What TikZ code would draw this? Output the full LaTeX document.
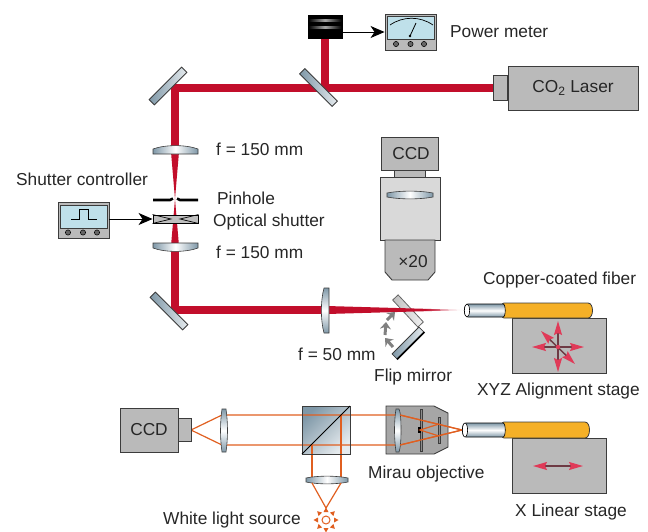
\documentclass[tikz,border=0pt]{standalone}
\usepackage{fontspec}
\setmainfont{Liberation Sans}
\usetikzlibrary{arrows.meta}
\definecolor{beamred}{HTML}{C20E2B}
\definecolor{rayorange}{HTML}{E05F20}
\definecolor{glassdark}{HTML}{7F98A8}
\definecolor{glasslight}{HTML}{E6EBEE}
\definecolor{edgegray}{HTML}{3C3C3C}
\definecolor{screenblue}{HTML}{BFE0EA}
\definecolor{copper}{HTML}{F5B027}
\definecolor{tipred}{HTML}{E03A58}
\definecolor{shaftred}{HTML}{6E3A44}
\tikzset{
    every node/.style={font=\fontsize{17.3}{20}\selectfont, text=black!85},
    label/.style={anchor=west, inner sep=0pt},
    box/.style={draw=edgegray, line width=0.9pt, fill=black!27, inner sep=0pt},
    beam/.style={line width=8pt, draw=beamred},
    ray/.style={draw=rayorange, line width=1.2pt},
    lens/.style={draw=edgegray, line width=0.6pt, left color=glassdark, right color=glassdark, middle color=white},
    vlens/.style={draw=edgegray, line width=0.6pt, top color=glassdark, bottom color=glassdark, middle color=white},
    mirror/.style={draw=edgegray, line width=0.8pt, minimum height=7.5pt, inner sep=0pt, left color=glassdark, right color=glasslight},
    sendarrow/.style={draw=black, line width=0.9pt, -{Stealth[length=14pt, width=12pt, inset=4pt]}},
    flipmove/.style={draw=black!50, line width=3pt, -{Stealth[length=7pt, width=11pt]}},
    stagemove/.style={draw=shaftred, line width=1.5pt, {Stealth[length=14pt, width=8pt, inset=2pt, color=tipred]}-{Stealth[length=14pt, width=8pt, inset=2pt, color=tipred]}},
    knob/.style={draw=black, fill=black!60, line width=0.5pt},
}
\begin{document}
\begin{tikzpicture}[x=1pt, y=-1pt]
    \useasboundingbox (0,0) rectangle (648,531);

    % red beam
    \draw[beam, line cap=butt] (325,38) -- (325,88);
    \draw[beam, line join=miter] (494,88) -- (175,88) -- (175,150);
    \fill[beamred] (171,152) -- (179,152) -- (175,199) -- cycle;
    \fill[beamred] (175,199) -- (179,246) -- (171,246) -- cycle;
    \draw[beam, line join=miter] (175,246) -- (175,310) -- (326,310);

    % instruments
    \node[box, minimum width=130pt, minimum height=44pt] (laser) at (573,88) {CO\textsubscript{2} Laser};
    \node[box, minimum width=14pt, minimum height=25pt, anchor=east] (nose) at (laser.west) {};
    \node[box, minimum width=51pt, minimum height=36pt] (meter) at (410.5,32) {};
    \node[draw=black, fill=black, minimum width=34pt, minimum height=23pt, inner sep=0pt] (atten) at (325,26.5) {};
    \shade[left color=black, right color=black, middle color=black!35] (308.5,19) rectangle (341.5,21);
    \shade[left color=black, right color=black, middle color=black!35] (308.5,26) rectangle (341.5,28);
    \draw[sendarrow] (atten.east |- meter) -- (meter.west);
    \draw[edgegray, fill=screenblue, line width=0.9pt] (387,16) rectangle (434,39);
    \draw[black, line width=0.7pt] (390,25) .. controls (403,16) and (420,16) .. (433,25);
    \draw[black, line width=0.8pt] (410,36) -- (416,23);
    \fill[black] (410,36) circle (1.3);
    \foreach \kx in {396,410.5,424}
        \draw[knob] (\kx,44) circle (2.6);
    \node[label] (metertext) at (450,32) {Power meter};

    \node[box, minimum width=51pt, minimum height=36pt] (controller) at (83.5,220.5) {};
    \draw[edgegray, fill=screenblue, line width=0.9pt] (60,205) rectangle (107,228);
    \draw[black, line width=0.8pt] (71,219) -- (79,219) -- (79,209) -- (88,209) -- (88,219) -- (97,219);
    \foreach \kx in {68,83,97}
        \draw[knob] (\kx,232.5) circle (2.6);
    \node[label] (controllertext) at (16,179) {Shutter controller};

    % pinhole, shutter and first lenses
    \draw[black, line width=2.6pt] (153,200) -- (170,200) -- (173,198.5);
    \draw[black, line width=2.6pt] (198,200) -- (180,200) -- (177,198.5);
    \node[draw=black, line width=0.9pt, fill=black!25, minimum width=45pt, minimum height=8pt, inner sep=0pt] (shutter) at (175.5,219) {};
    \draw[black, line width=0.7pt] (shutter.north west) -- (171,219) -- (shutter.south west);
    \draw[black, line width=0.7pt] (shutter.north east) -- (180,219) -- (shutter.south east);
    \draw[sendarrow] (controller.east |- shutter) -- (shutter.west);
    \draw[lens] (153,154) -- (153,149) .. controls (165,144.5) and (186,144.5) .. (198,149) -- (198,154) -- cycle;
    \draw[lens] (153,243) -- (198,243) -- (198,248) .. controls (186,252.5) and (165,252.5) .. (153,248) -- cycle;
    \node[label] (lensatext) at (216,149) {f = 150 mm};
    \node[label] (pinholetext) at (217,198) {Pinhole};
    \node[label] (shuttertext) at (213,222) {Optical shutter};
    \node[label] (lensbtext) at (216,252) {f = 150 mm};

    % mirrors
    \node[mirror, minimum width=46pt, rotate=-45] (mirrorsplit) at (318.5,87.5) {};
    \node[mirror, minimum width=46pt, rotate=45] (mirrortop) at (168,86) {};
    \node[mirror, minimum width=46pt, rotate=-45] (mirrorlow) at (169,311) {};

    % microscope
    \node[box, minimum width=57pt, minimum height=33pt] (ccdtop) at (409.5,153.5) {\hspace{3pt}CCD};
    \node[box, minimum width=31pt, minimum height=7pt] (neck) at (409.5,173.5) {};
    \node[box, fill=black!15, minimum width=60pt, minimum height=63pt] (body) at (410,208.5) {};
    \draw[lens] (387,193) .. controls (400,190.5) and (420,190.5) .. (433,193) -- (433,197) .. controls (420,199.5) and (400,199.5) .. (387,197) -- cycle;
    \draw[edgegray, line width=0.9pt, fill=black!27] (385,240) -- (435,240) -- (435,272) -- (428,280) -- (392,280) -- (385,272) -- cycle;
    \node[inner sep=0pt] (zoomtext) at (413,262) {×20};

    % focusing lens and flip mirrors
    \node[mirror, minimum width=37pt, draw=black!60, left color=black!25, right color=black!5, rotate=-47] (flipa) at (408,311) {};
    \node[mirror, minimum width=38pt, minimum height=7pt, rotate=45] (flipb) at (408,343) {};
    \draw[black, line width=1.6pt] (flipb.south west) -- (flipb.south east);
    \fill[beamred] (327,306) -- (327,314) -- (425,311.2) -- (425,308.8) -- cycle;
    \shade[left color=beamred, right color=white] (425,308.8) -- (465,310) -- (425,311.2) -- cycle;
    \draw[vlens] (329,288) -- (329,333) -- (324,333) .. controls (320.5,320) and (320.5,301) .. (324,288) -- cycle;
    \draw[flipmove] (393,347) -- (385,338);
    \draw[flipmove] (385,335) -- (386,322);
    \draw[flipmove] (387,320) -- (395,312);
    \node[label] (lensctext) at (298,354) {f = 50 mm};
    \node[label] (fliptext) at (374,377) {Flip mirror};

    % alignment stage and fiber
    \node[box, minimum width=94pt, minimum height=55pt] (stagea) at (559,345.5) {};
    \draw[stagemove] (541,331) -- (575,364);
    \draw[stagemove] (532,347) -- (584,347);
    \draw[stagemove] (558,321) -- (558,372);
    \fill[tipred] (558,347) circle (2.2);
    \draw[edgegray, line width=0.8pt, fill=copper] (504,303) -- (588,303) .. controls (594,303) and (594,318) .. (588,318) -- (504,318) .. controls (500,318) and (500,303) .. (504,303) -- cycle;
    \draw[vlens, draw=black] (503,304) -- (468,304) .. controls (463,304) and (463,317) .. (468,317) -- (503,317) .. controls (506,317) and (506,304) .. (503,304) -- cycle;
    \draw[black, fill=white, line width=0.6pt] (467,310.5) ellipse (2.6 and 6.5);
    \node[label] (fibertext) at (483,280) {Copper-coated fiber};
    \node[label] (stageatext) at (477,391) {XYZ Alignment stage};

    % interferometer
    \shade[top color=glassdark, bottom color=glasslight, shading angle=45] (302,406) rectangle (350,454);
    \draw[edgegray, line width=0.9pt, fill=black!35] (386,406) -- (434,406) -- (448,413) -- (448,447) -- (434,454) -- (386,454) -- cycle;
    \draw[ray] (191,430) -- (222,415) -- (400,415) -- (462,430) -- (400,445) -- (222,445) -- cycle;
    \draw[ray] (312,445) -- (312,482);
    \draw[ray] (341,415) -- (341,482);
    \draw[edgegray, line width=0.9pt] (302,406) rectangle (350,454);
    \draw[black, line width=1pt] (302,454) -- (350,406);
    \node[box, minimum width=58pt, minimum height=44pt] (ccdlow) at (149,430) {CCD};
    \node[box, minimum width=13pt, minimum height=23pt, anchor=west] (ccdnose) at (ccdlow.east) {};
    \draw[vlens] (222,409) -- (226,409) .. controls (228,423) and (228,438) .. (226,452) -- (222,452) .. controls (220,438) and (220,423) .. (222,409) -- cycle;
    \draw[vlens] (394.5,430) .. controls (394.5,420) and (395.5,412) .. (396,409) -- (399,409) .. controls (400.5,412) and (401,420) .. (401,430) .. controls (401,440) and (400.5,448) .. (399,452) -- (396,452) .. controls (395.5,448) and (394.5,440) .. (394.5,430) -- cycle;
    \draw[edgegray, fill=black!45, line width=0.4pt] (420,409) rectangle (422,451);
    \draw[edgegray, fill=black!45, line width=0.4pt] (438,417) rectangle (440,443);
    \fill[black] (418,427) rectangle (420.5,433);
    \draw[ray] (400,415) -- (462,430) -- (400,445);
    \draw[ray] (439,424) -- (420,430) -- (439,436);
    \draw[lens] (306,478) .. controls (318,475.5) and (336,475.5) .. (348,478) -- (348,482) .. controls (336,484.5) and (318,484.5) .. (306,482) -- cycle;
    \draw[ray] (312,483) -- (326,508) -- (341,483);
    \foreach \sunangle in {0,45,...,315}
        \fill[rayorange, rotate around={\sunangle:(326,520)}] (323.5,512) -- (328.5,512) -- (326,507.5) -- cycle;
    \draw[rayorange, fill=white, line width=1pt] (326,520) circle (4);
    \node[label] (sourcetext) at (163,520) {White light source};
    \node[label] (mirautext) at (368,474) {Mirau objective};

    % linear stage and fiber
    \node[box, minimum width=94pt, minimum height=55pt] (stageb) at (559,465.5) {};
    \draw[stagemove] (533,466) -- (583,466);
    \draw[edgegray, line width=0.8pt, fill=copper] (504,422) -- (585,422) .. controls (591,422) and (591,438) .. (585,438) -- (504,438) .. controls (500,438) and (500,422) .. (504,422) -- cycle;
    \draw[vlens, draw=black] (503,423) -- (466,423) .. controls (461,423) and (461,437) .. (466,437) -- (503,437) .. controls (506,437) and (506,423) .. (503,423) -- cycle;
    \draw[black, fill=white, line width=0.6pt] (465,430) ellipse (2.6 and 7);
    \node[label] (stagebtext) at (515,512) {X Linear stage};
\end{tikzpicture}
\end{document}
